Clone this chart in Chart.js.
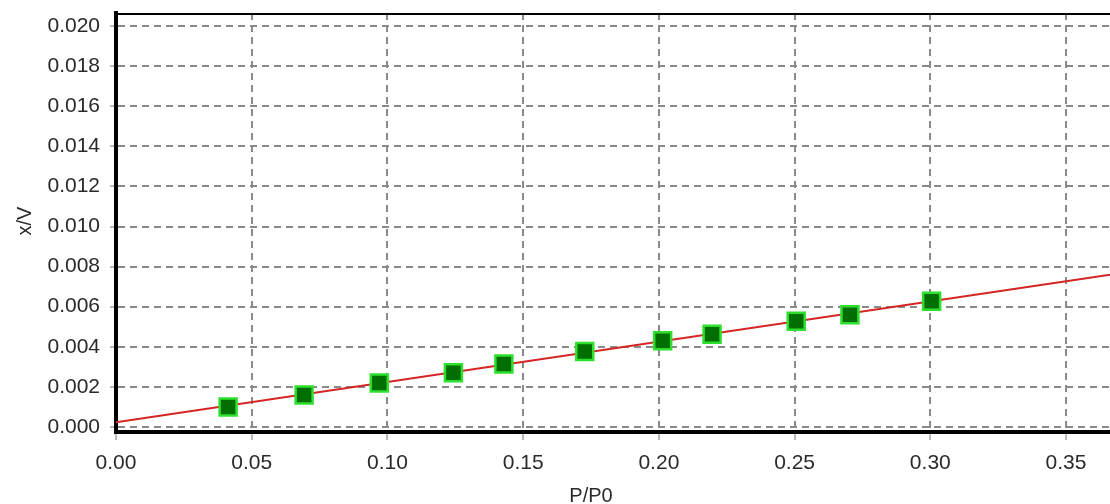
<!DOCTYPE html>
<html>
<head>
<meta charset="utf-8">
<script src="https://cdn.jsdelivr.net/npm/chart.js@4.4.0/dist/chart.umd.min.js"></script>
<style>
  html, body { margin: 0; padding: 0; background: #fff; overflow: hidden; }
  #wrap { width: 1110px; height: 504px; position: relative; }
</style>
</head>
<body>
<div id="wrap"><canvas id="myChart" width="1110" height="504"></canvas></div>
<script>
// data
var pressureRatio = [0.0413, 0.0693, 0.0970, 0.1243, 0.1429, 0.1727, 0.2014, 0.2196, 0.2506, 0.2704, 0.3005];
var xOverV = [0.00100, 0.00160, 0.00219, 0.00270, 0.00314, 0.00377, 0.00430, 0.00463, 0.00527, 0.00560, 0.00627];

// fitted line, read at both ends of the plot
var fitX = [0.0, 0.3662];
var fitY = [0.00024, 0.00760];

var xTicks = [0.00, 0.05, 0.10, 0.15, 0.20, 0.25, 0.30, 0.35];
var yTicks = [0.000, 0.002, 0.004, 0.006, 0.008, 0.010, 0.012, 0.014, 0.016, 0.018, 0.020];

var xTitle = "P/P0";
var yTitle = "x/V";

var pointData = pressureRatio.map(function (x, i) { return {x: x, y: xOverV[i]}; });
var fitData = fitX.map(function (x, i) { return {x: x, y: fitY[i]}; });

var labelFont = '"Liberation Sans", Arial, sans-serif';

function keepTicks(list) {
    return function (scale) {
        scale.ticks = list.map(function (v) { return {value: v}; });
    };
}

// frame on top + axis titles placed like the original
var framePlugin = {
    id: 'frame',
    afterDraw: function (chart) {
        var ctx = chart.ctx;
        var area = chart.chartArea;
        ctx.save();
        ctx.strokeStyle = '#000';
        ctx.lineWidth = 2;
        ctx.beginPath();
        ctx.moveTo(area.left, area.top + 1);
        ctx.lineTo(area.right, area.top + 1);
        ctx.stroke();

        var xs = chart.scales.x;
        ctx.fillStyle = '#2a2a2a';
        ctx.font = '20px ' + labelFont;
        ctx.textAlign = 'center';
        ctx.textBaseline = 'alphabetic';
        ctx.fillText(xTitle, xs.getPixelForValue(0.175), 502);

        ctx.translate(31, 221);
        ctx.rotate(-Math.PI / 2);
        ctx.fillText(yTitle, 0, 0);
        ctx.restore();
    }
};

var context = document.getElementById("myChart").getContext("2d");
var myChart = new Chart(context, {
    type: 'scatter',
    data: {
        datasets: [
            {
                label: "fit",
                type: 'line',
                data: fitData,
                borderColor: "#d62424",
                backgroundColor: "#d62424",
                borderWidth: 2,
                pointRadius: 0,
                fill: false,
                order: 2
            },
            {
                label: "x/V",
                data: pointData,
                pointStyle: 'rect',
                pointRadius: 12,
                pointHoverRadius: 12,
                backgroundColor: "#006e00",
                borderColor: "#2ee02e",
                borderWidth: 2.5,
                order: 1
            }
        ]
    },
    options: {
        responsive: false,
        animation: false,
        devicePixelRatio: 1,
        layout: { autoPadding: false, padding: { top: 13, right: 0, left: 0, bottom: 0 } },
        plugins: {
            legend: { display: false },
            tooltip: { enabled: false }
        },
        scales: {
            x: {
                type: 'linear',
                min: 0,
                max: 0.3662,
                afterBuildTicks: keepTicks(xTicks),
                afterFit: function (scale) {
                    scale.height = 72;
                    scale.paddingLeft = 0;
                    scale.paddingRight = 0;
                },
                grid: {
                    color: '#8a8a8a',
                    lineWidth: 2,
                    drawTicks: true,
                    tickLength: 8,
                    tickColor: '#777',
                    tickWidth: 1
                },
                border: { display: true, color: '#000', width: 4, dash: [7, 5] },
                ticks: {
                    color: '#2a2a2a',
                    padding: 11,
                    maxRotation: 0,
                    autoSkip: false,
                    font: { family: labelFont, size: 21 },
                    callback: function (v) { return v.toFixed(2); }
                }
            },
            y: {
                type: 'linear',
                min: -0.00025,
                max: 0.02065,
                afterBuildTicks: keepTicks(yTicks),
                afterFit: function (scale) {
                    scale.width = 116;
                    scale.paddingTop = 0;
                    scale.paddingBottom = 0;
                },
                grid: {
                    color: '#8a8a8a',
                    lineWidth: 2,
                    drawTicks: true,
                    tickLength: 6,
                    tickColor: '#777',
                    tickWidth: 1
                },
                border: { display: true, color: '#000', width: 4, dash: [7, 5] },
                ticks: {
                    color: '#2a2a2a',
                    padding: 10,
                    autoSkip: false,
                    font: { family: labelFont, size: 21 },
                    callback: function (v) { return v.toFixed(3); }
                }
            }
        }
    },
    plugins: [framePlugin]
});
</script>
</body>
</html>
